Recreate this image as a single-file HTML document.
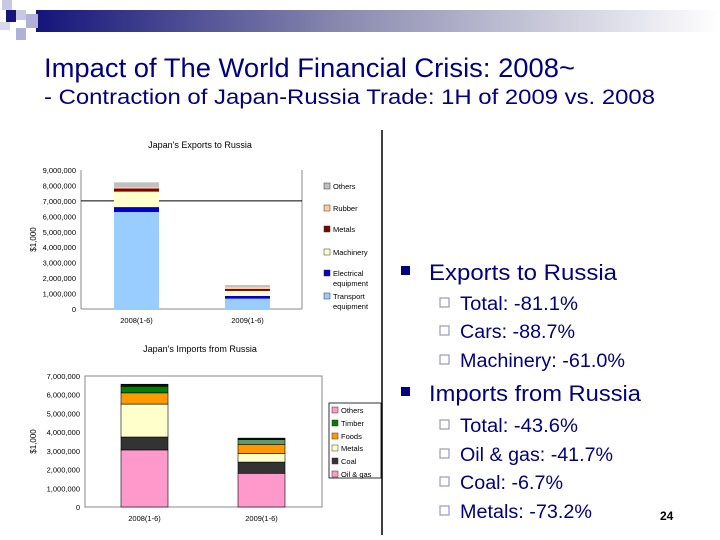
<!DOCTYPE html>
<html><head><meta charset="utf-8"><style>
body{margin:0;width:720px;height:540px;overflow:hidden;background:#fff;font-family:"Liberation Sans",sans-serif}
svg{display:block}
</style></head><body>
<svg id="s" width="720" height="540" xmlns="http://www.w3.org/2000/svg">
<defs><linearGradient id="g" x1="0" x2="1"><stop offset="0" stop-color="#14147a"/><stop offset="0.45" stop-color="#8a8ab0"/><stop offset="1" stop-color="#fff"/></linearGradient></defs>
<g>
<rect x="36" y="10" width="684" height="22" fill="url(#g)"/>
<rect x="2" y="0" width="10" height="10" fill="#c8c8e4"/>
<rect x="6" y="10" width="10" height="12" fill="#14147a"/>
<rect x="16" y="10" width="10" height="10" fill="#c8c8e4"/>
<rect x="26" y="14" width="12" height="14" fill="#b0b0d8"/>
<rect x="16" y="28" width="10" height="12" fill="#b0b0d8"/>
<rect x="0" y="22" width="10" height="8" fill="#d8d8ee"/>
</g>
<text x="44" y="77" font-size="27" textLength="531" lengthAdjust="spacingAndGlyphs" fill="#000080">Impact of The World Financial Crisis: 2008~</text>
<text x="44" y="104" font-size="21" textLength="611" lengthAdjust="spacingAndGlyphs" fill="#000080">- Contraction of Japan-Russia Trade: 1H of 2009 vs. 2008</text>
<line x1="382" y1="130" x2="382" y2="535" stroke="#000" stroke-width="1.5"/>
<g id="c1"></g>
<g id="c2"></g>
<g fill="#000080">
<rect x="401" y="266" width="9" height="9"/>
<text x="429" y="280" font-size="22" textLength="188" lengthAdjust="spacingAndGlyphs">Exports to Russia</text>
<rect x="401" y="387" width="9" height="9"/>
<text x="429" y="401" font-size="22" textLength="212" lengthAdjust="spacingAndGlyphs">Imports from Russia</text>
<g font-size="19">
<text x="460" y="310" textLength="118" lengthAdjust="spacingAndGlyphs">Total: -81.1%</text>
<text x="460" y="338" textLength="115" lengthAdjust="spacingAndGlyphs">Cars: -88.7%</text>
<text x="460" y="367" textLength="165" lengthAdjust="spacingAndGlyphs">Machinery: -61.0%</text>
<text x="460" y="432" textLength="118" lengthAdjust="spacingAndGlyphs">Total: -43.6%</text>
<text x="460" y="461" textLength="153" lengthAdjust="spacingAndGlyphs">Oil &amp; gas: -41.7%</text>
<text x="460" y="489" textLength="103" lengthAdjust="spacingAndGlyphs">Coal: -6.7%</text>
<text x="460" y="518" textLength="132" lengthAdjust="spacingAndGlyphs">Metals: -73.2%</text>
</g>
<g fill="none" stroke="#9a9ab0" stroke-width="1.2">
<rect x="440" y="298" width="9" height="9"/><rect x="440" y="326" width="9" height="9"/><rect x="440" y="355" width="9" height="9"/>
<rect x="440" y="420" width="9" height="9"/><rect x="440" y="449" width="9" height="9"/><rect x="440" y="477" width="9" height="9"/><rect x="440" y="506" width="9" height="9"/>
</g>
</g>
<text x="660" y="520" font-size="12" font-weight="bold" fill="#000">24</text>
</svg>
<script>
const NS="http://www.w3.org/2000/svg";
const expCategories=["2008(1-6)","2009(1-6)"];
const expSeries=["Transport equipment","Electrical equipment","Machinery","Metals","Rubber","Others"];
const expTransport=[6280000,670000];
const expElectrical=[320000,180000];
const expMachinery=[1000000,320000];
const expMetals=[200000,130000];
const expRubber=[100000,120000];
const expOthers=[300000,130000];
const expTicks=["0","1,000,000","2,000,000","3,000,000","4,000,000","5,000,000","6,000,000","7,000,000","8,000,000","9,000,000"];
const impCategories=["2008(1-6)","2009(1-6)"];
const impSeries=["Oil & gas","Coal","Metals","Foods","Timber","Others"];
const impOil=[3050000,1800000];
const impCoal=[690000,600000];
const impMetals=[1760000,450000];
const impFoods=[600000,500000];
const impTimber=[350000,250000];
const impOthers=[110000,80000];
const impTicks=["0","1,000,000","2,000,000","3,000,000","4,000,000","5,000,000","6,000,000","7,000,000"];

function el(p,t,a){const e=document.createElementNS(NS,t);for(const k in a)e.setAttribute(k,a[k]);p.appendChild(e);return e;}
function txt(p,x,y,s,size,anchor){const e=el(p,"text",{x:x,y:y,"font-size":size,"text-anchor":anchor||"start",fill:"#000"});e.textContent=s;return e;}

function chart(g,o){
  const y=v=>o.y0-(v/o.max)*(o.y0-o.yTop);
  const x=i=>o.barX[i];
  txt(g,o.titleX,o.titleY,o.title,9,"middle");
  const at=txt(g,0,0,"$1,000",8,"middle");
  at.setAttribute('transform',`translate(${o.axX},${(o.y0+o.yTop)/2}) rotate(-90)`);
  
  if(o.frame){const f=el(g,"rect",{x:o.x0,y:o.yTop,width:o.x1-o.x0,height:o.y0-o.yTop,fill:"none",stroke:"#888"});}
  else{
    el(g,"line",{x1:o.x0,y1:o.yTop,x2:o.x0,y2:o.y0,stroke:"#888"});
    el(g,"line",{x1:o.x1,y1:o.yTop,x2:o.x1,y2:o.y0,stroke:"#888"});
    el(g,"line",{x1:o.x0,y1:o.y0,x2:o.x1,y2:o.y0,stroke:"#888"});
  }
  o.ticks.forEach((t,i)=>{const v=i*1000000;const tl=txt(g,o.x0-5,y(v)+3,t,7.5,"end");});
  if(o.refLine!==undefined){const l=el(g,"line",{x1:o.x0,y1:y(o.refLine),x2:o.x1,y2:y(o.refLine),stroke:"#000"});}
  o.cats.forEach((c,i)=>{
    let acc=0;
    o.series.forEach((s,k)=>{
      const v=s[i];const yt=y(acc+v),yb=y(acc);
      const r=el(g,"rect",{x:x(i),y:yt,width:o.bw,height:yb-yt,fill:o.colors[k][i]||o.colors[k][0],stroke:o.stroke,"stroke-width":0.6});
      
      
      acc+=v;
    });
    const xl=txt(g,x(i)+o.bw/2,o.y0+14,c,7.5,"middle");
  });
  if(o.legendBox){const b=el(g,"rect",o.legendBox);}
  o.legend.forEach((L,k)=>{
    const s=el(g,"rect",{x:L.x,y:L.y-6,width:6,height:6,fill:o.colors[L.k][0],stroke:"#333","stroke-width":0.5});
    
    L.lines.forEach((ln,j)=>{const t=txt(g,L.x+9,L.y+j*10,ln,7.5);});
  });
}
chart(document.getElementById('c1'),{
  title:"Japan's Exports to Russia",titleX:200,titleY:148,axX:36,
  x0:81,x1:302,y0:309,yTop:170,max:9000000,ticks:expTicks,refLine:7000000,
  barX:[114,225],bw:45,cats:expCategories,stroke:"none",
  series:[expTransport,expElectrical,expMachinery,expMetals,expRubber,expOthers],names:expSeries,
  colors:[["#99ccff"],["#0000cc"],["#ffffcc"],["#800000"],["#ffcc99"],["#c0c0c0"]],
  legend:[{k:5,x:324,y:189,lines:["Others"]},{k:4,x:324,y:211,lines:["Rubber"]},{k:3,x:324,y:232,lines:["Metals"]},{k:2,x:324,y:255,lines:["Machinery"]},{k:1,x:324,y:276,lines:["Electrical","equipment"]},{k:0,x:324,y:299,lines:["Transport","equipment"]}]
});
chart(document.getElementById('c2'),{
  title:"Japan's Imports from Russia",titleX:200,titleY:352,axX:36,frame:true,
  x0:85,x1:322,y0:507,yTop:376,max:7000000,ticks:impTicks,
  barX:[121,238],bw:47,cats:impCategories,stroke:"#000",
  series:[impOil,impCoal,impMetals,impFoods,impTimber,impOthers],names:impSeries,
  colors:[["#ff99cc"],["#333333"],["#ffffcc"],["#ff9900"],["#008000","#5b9b6f"],["#111111"]],
  legendBox:{x:329,y:403,width:52,height:75,fill:"#fff",stroke:"#000","stroke-width":0.8},
  legend:[{k:0,x:332,y:413,lines:["Others"]},{k:4,x:332,y:426,lines:["Timber"]},{k:3,x:332,y:439,lines:["Foods"]},{k:2,x:332,y:451,lines:["Metals"]},{k:1,x:332,y:464,lines:["Coal"]},{k:0,x:332,y:477,lines:["Oil & gas"]}]
});
</script>
</body></html>
